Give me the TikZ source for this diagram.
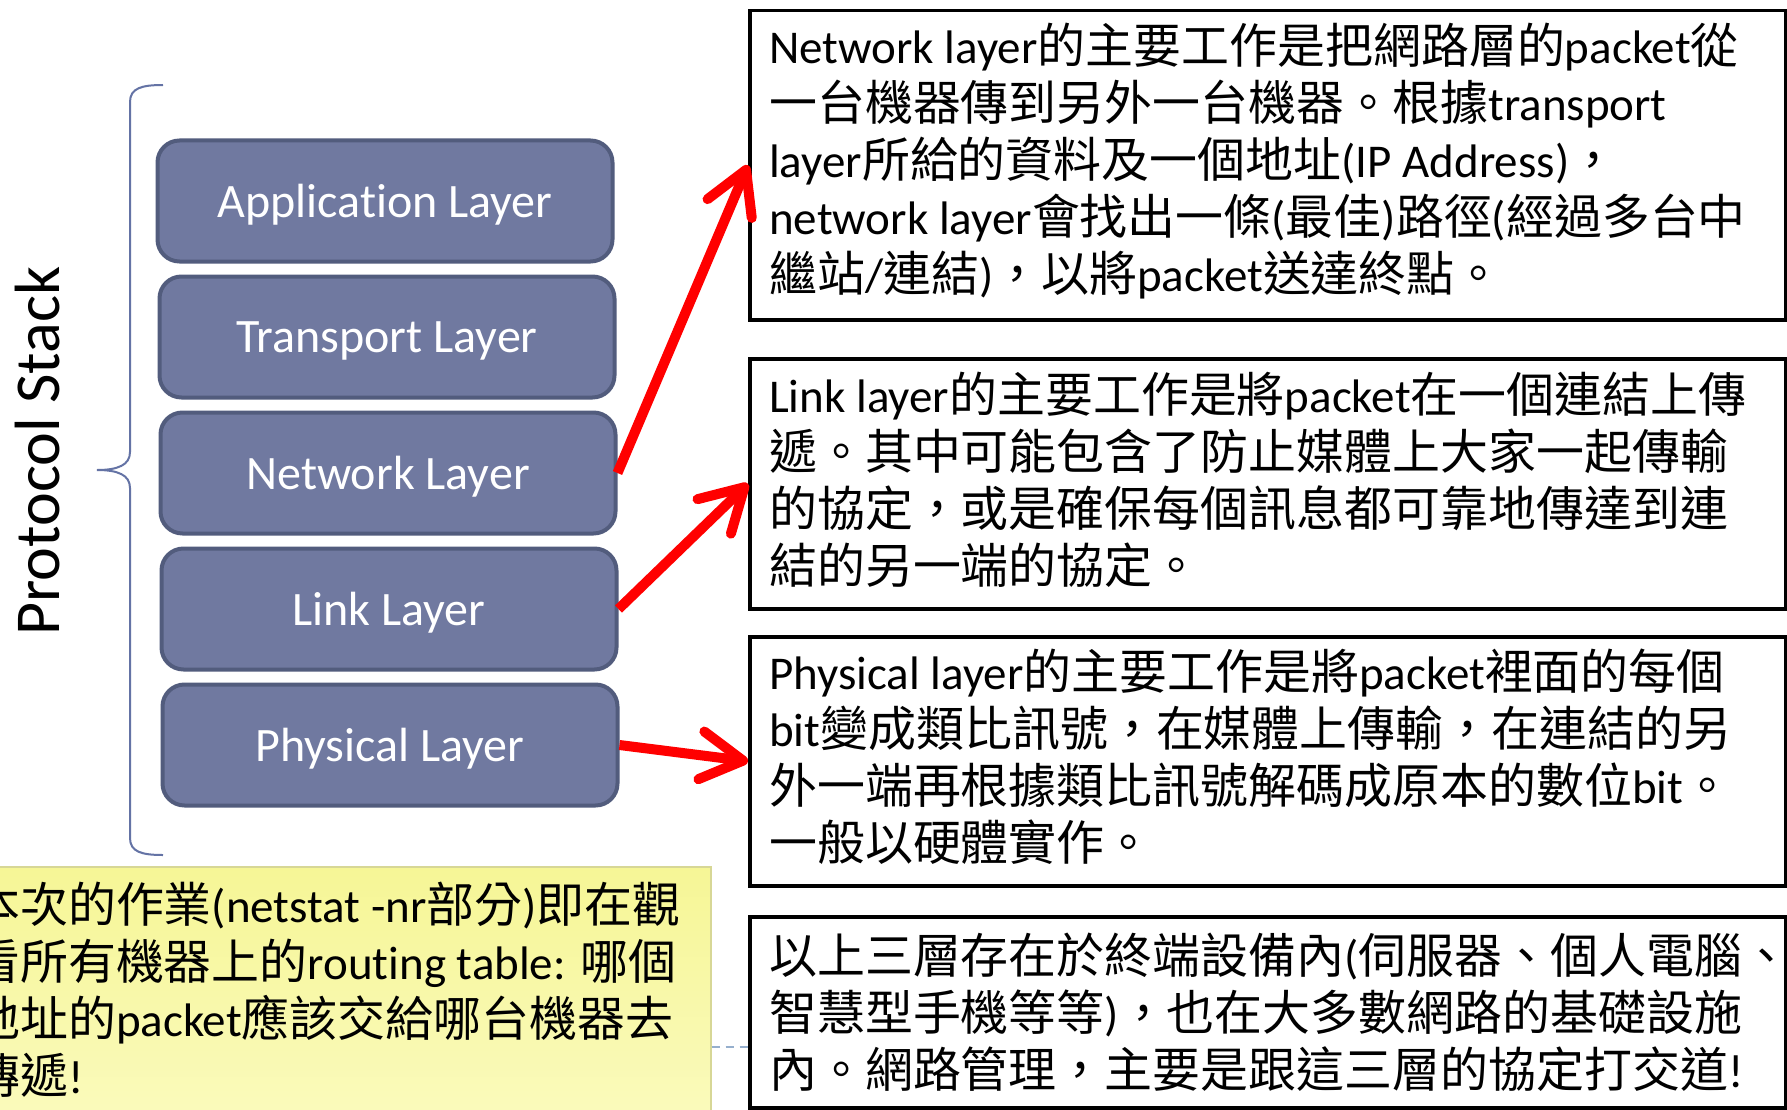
\documentclass[tikz,border=0pt]{standalone}
\usepackage{fontspec}
\setmainfont{Carlito}[Ligatures=NoCommon]
\newfontfamily\cjkfont{Noto Sans CJK TC}[Scale=1.02]
\usetikzlibrary{arrows.meta}
\XeTeXinterchartokenstate=1
\newXeTeXintercharclass\CJKcls
\makeatletter
\ifdefined\e@alloc@intercharclass@top
  \chardef\mybndcls=\e@alloc@intercharclass@top
\else
  \chardef\mybndcls=4095
\fi
\def\setcjkrange#1#2{\count@=#1\relax
  \loop\XeTeXcharclass\count@=\CJKcls\relax
  \ifnum\count@<#2\relax\advance\count@\@ne\repeat}
\setcjkrange{"3000}{"303F}
\setcjkrange{"4E00}{"9FFF}
\setcjkrange{"FF00}{"FFEF}
\makeatother
\XeTeXinterchartoks 0 \CJKcls = {\cjkfont}
\XeTeXinterchartoks \mybndcls \CJKcls = {\cjkfont}
\XeTeXinterchartoks \CJKcls 0 = {\normalfont}
\XeTeXinterchartoks \CJKcls \mybndcls = {\normalfont}
\definecolor{layfill}{RGB}{112,121,160}
\definecolor{laybord}{RGB}{82,92,125}
\definecolor{bracecol}{RGB}{100,115,165}
\definecolor{noteA}{RGB}{246,246,150}
\definecolor{noteB}{RGB}{251,251,195}
\definecolor{notebord}{RGB}{215,215,150}
\definecolor{dashcol}{RGB}{150,175,205}
\definecolor{arrred}{RGB}{255,0,0}
\begin{document}
\begin{tikzpicture}[x=1pt,y=-1pt,
  layerbox/.style={draw=laybord, line width=4pt, fill=layfill, rounded corners=22pt,
    minimum width=455pt, minimum height=121pt, text=white, inner sep=0pt,
    text depth=0pt, font=\fontsize{48}{55}\selectfont},
  descbox/.style={draw=black, line width=3.5pt, minimum width=1036pt, anchor=north west, inner sep=0pt},
  desctext/.style={anchor=west, align=left, inner sep=0pt, font=\fontsize{47}{57}\selectfont},
  notebox/.style={draw=notebord, line width=1.5pt, top color=noteA, bottom color=noteB,
    anchor=north west, inner sep=0pt},
  redarrow/.style={draw=arrred, line width=10pt, line cap=butt,
    -{Straight Barb[length=42pt, width=48pt, round]}}
]
\useasboundingbox (0,0) rectangle (1787,1110);
\clip (0,0) rectangle (1787,1110);
\fill[white] (0,0) rectangle (1787,1110);

% brace
\draw[bracecol, line width=2pt] (163,85) .. controls (142,85) and (130,88) .. (130,102)
  -- (130,452) .. controls (130,465) and (118,470) .. (97,470)
  .. controls (118,470) and (130,475) .. (130,488)
  -- (130,838) .. controls (130,852) and (142,855) .. (163,855);

\node[rotate=90, inner sep=0pt, font=\fontsize{64}{70}\selectfont] (ps) at (38,451) {Protocol Stack};

% layer boxes
\node[layerbox] (app) at (385,201) {Application Layer};
\node[layerbox] (tra) at (387,337) {Transport Layer};
\node[layerbox] (net) at (388,473) {Network Layer};
\node[layerbox] (lnk) at (389,609) {Link Layer};
\node[layerbox] (phy) at (390,745) {Physical Layer};

% description boxes
\node[descbox, minimum height=309pt] (netbox) at (748,9) {};
\node[descbox, minimum height=250pt] (lnkbox) at (748,357) {};
\node[descbox, minimum height=249pt] (phybox) at (748,635) {};
\node[descbox, minimum height=191pt] (allbox) at (748,915) {};

\node[desctext] (nettext) at ([xshift=21pt,yshift=4.5pt]netbox.west) {Network layer的主要工作是把網路層的packet從\\一台機器傳到另外一台機器。根據transport\\layer所給的資料及一個地址(IP Address)，\\network layer會找出一條(最佳)路徑(經過多台中\\繼站/連結)，以將packet送達終點。};
\node[desctext] (lnktext) at ([xshift=21pt,yshift=4pt]lnkbox.west) {Link layer的主要工作是將packet在一個連結上傳\\遞。其中可能包含了防止媒體上大家一起傳輸\\的協定，或是確保每個訊息都可靠地傳達到連\\結的另一端的協定。};
\node[desctext] (phytext) at ([xshift=21pt,yshift=5pt]phybox.west) {Physical layer的主要工作是將packet裡面的每個\\bit變成類比訊號，在媒體上傳輸，在連結的另\\外一端再根據類比訊號解碼成原本的數位bit。\\一般以硬體實作。};
\node[desctext] (alltext) at ([xshift=21pt]allbox.west) {以上三層存在於終端設備內(伺服器、個人電腦、\\智慧型手機等等)，也在大多數網路的基礎設施\\內。網路管理，主要是跟這三層的協定打交道!};

% note
\node[notebox, minimum width=730pt, minimum height=300pt] (note) at (-20,866) {};
\node[desctext] (notetxt) at (-28,990) {本次的作業(netstat -nr部分)即在觀\\看所有機器上的routing table: 哪個\\地址的packet應該交給哪台機器去\\傳遞!};
\coordinate (dy) at (0,1047);
\draw[dashcol, line width=2pt, dash pattern=on 8pt off 6pt] (note.east |- dy) -- (allbox.west |- dy);

% arrows
\draw[redarrow] (net.east) -- (netbox.west);
\draw[redarrow] (lnk.east) -- (lnkbox.west);
\draw[redarrow] (phy.east) -- (phybox.west);
\end{tikzpicture}
\end{document}
